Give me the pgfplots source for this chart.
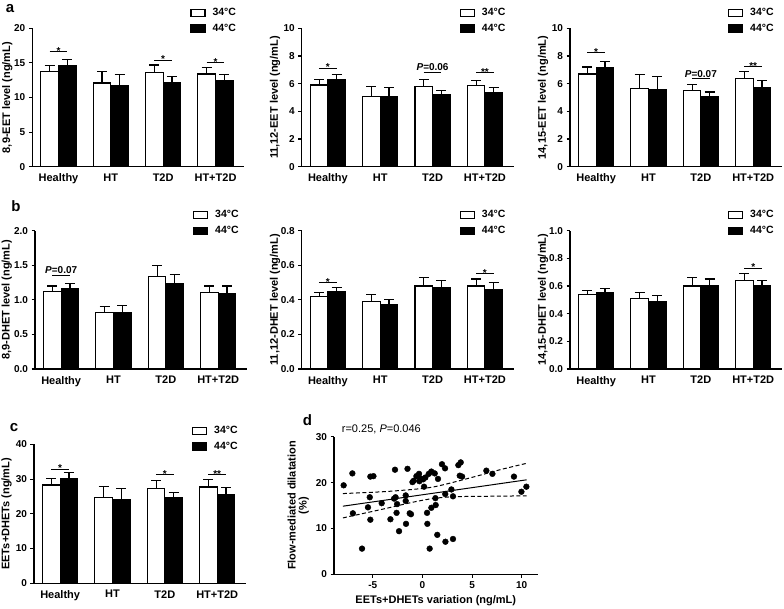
\documentclass[border=0pt]{standalone}
\usepackage{pgfplots}
\usepackage{pgfplotstable}
\pgfplotsset{compat=1.18}
\usepackage{fontspec}
\setmainfont{Liberation Sans}

% group, 34C mean, 34C error, 44C mean, 44C error
\pgfplotstableread{
g w we b be
0 13.8 0.8 14.6 0.9
1 12.1 1.6 11.7 1.6
2 13.6 1.1 12.1 0.9
3 13.4 0.9 12.4 0.9
}\tabAa
\pgfplotstableread{
g w we b be
0 5.90 0.40 6.30 0.35
1 5.10 0.70 5.05 0.70
2 5.80 0.50 5.20 0.30
3 5.85 0.40 5.35 0.40
}\tabAb
\pgfplotstableread{
g w we b be
0 6.70 0.50 7.15 0.45
1 5.65 1.00 5.60 0.90
2 5.50 0.45 5.10 0.30
3 6.35 0.55 5.75 0.50
}\tabAc
\pgfplotstableread{
g w we b be
0 1.12 0.08 1.16 0.08
1 0.82 0.08 0.82 0.10
2 1.34 0.15 1.23 0.13
3 1.10 0.10 1.09 0.11
}\tabBa
\pgfplotstableread{
g w we b be
0 0.42 0.02 0.45 0.02
1 0.39 0.04 0.37 0.03
2 0.48 0.05 0.47 0.04
3 0.48 0.04 0.46 0.04
}\tabBb
\pgfplotstableread{
g w we b be
0 0.54 0.03 0.55 0.03
1 0.51 0.04 0.49 0.04
2 0.60 0.06 0.60 0.05
3 0.64 0.05 0.60 0.04
}\tabBc
\pgfplotstableread{
g w we b be
0 28.3 1.9 30.2 1.6
1 24.6 3.3 24.1 3.1
2 27.3 2.3 24.6 1.5
3 27.7 2.1 25.6 1.9
}\tabC
\pgfplotstableread{
x y
-7.93 19.4
-7.05 22.0
-7.00 13.3
-6.08 5.6
-5.24 21.3
-4.93 21.4
-5.30 16.8
-5.48 14.6
-5.24 11.9
-4.10 15.5
-3.22 12.0
-2.76 22.8
-2.70 16.8
-2.85 16.5
-2.55 15.3
-2.60 13.4
-2.35 9.4
-1.50 23.0
-1.68 17.2
-1.68 16.0
-1.65 11.0
-1.28 13.3
-1.15 13.1
-1.00 20.1
-0.87 20.4
-0.60 21.4
-0.34 21.9
-0.20 20.9
-0.30 20.3
0.07 20.7
0.30 21.1
0.17 19.1
0.64 21.9
0.90 22.4
1.24 22.0
0.50 11.0
0.73 5.6
0.47 13.4
0.90 14.5
1.34 15.1
1.31 16.6
1.57 20.8
1.50 8.6
1.97 24.0
2.28 23.1
2.30 17.5
2.32 7.1
2.92 18.5
3.08 17.0
3.08 7.7
3.62 23.8
3.86 24.4
3.76 21.5
4.00 21.3
6.44 22.6
7.05 21.9
9.22 21.3
9.97 18.0
10.47 19.1
}\tabD

\newcommand{\fs}[1]{\fontsize{#1}{#1}\selectfont\bfseries}
% significance bar: x1, x2, xmid, y, text
\newcommand{\sigs}[5]{%
  \draw[line width=0.9pt] (axis cs:#1,#4) -- (axis cs:#2,#4);
  \node[font=\fs{10}, anchor=base, inner sep=0pt, yshift=-2.6pt] at (axis cs:#3,#4) {#5};}
\newcommand{\sigp}[5]{%
  \draw[line width=0.9pt] (axis cs:#1,#4) -- (axis cs:#2,#4);
  \node[font=\fs{10}, anchor=base, inner sep=0pt, yshift=1.6pt] at (axis cs:#3,#4) {#5};}

\pgfplotsset{
  lgw/.style={legend image code/.code={\draw[line width=1.1pt,draw=black,fill=white] (0pt,-3.6pt) rectangle (14pt,3.6pt);}},
  lgb/.style={legend image code/.code={\draw[line width=1.1pt,draw=black,fill=black] (0pt,-3.6pt) rectangle (14pt,3.6pt);}},
  ebar/.style={error bars/.cd, y dir=plus, y explicit, error mark=|,
    error bar style={line width=1.1pt, black},
    error mark options={line width=1.1pt, black, mark size=5pt}},
  ylpos/.style={ylabel style={at={(axis description cs:#1,0.5)}, anchor=center}},
  barax/.style={
    scale only axis, width=212pt, height=138.4pt, anchor=south west,
    xmin=-0.5, xmax=3.55, ymin=0,
    axis x line*=bottom, axis y line*=left,
    axis line style={line width=1.2pt, -},
    xtick={0,1,2,3}, xticklabels={Healthy,HT,T2D,HT+T2D},
    x tick style={draw=none},
    tick align=outside, major tick length=3.5pt,
    y tick style={line width=1.1pt, black},
    /pgf/number format/assume math mode=true,
    yticklabel style={font=\fs{10}},
    xticklabel style={font=\fs{11}},
    ylabel style={font=\fs{11}},
    ybar, bar width=0.336,
    clip=false,
    legend style={draw=none, fill=none, inner sep=0pt,
      at={(axis description cs:0.745,1.16)}, anchor=north west,
      font=\fs{10.5}, row sep=3pt, legend cell align=left,
      /tikz/every odd column/.append style={column sep=5pt}},
  },
}

\begin{document}
\begin{tikzpicture}
\useasboundingbox (0pt,0pt) rectangle (784pt,608pt);

% ---------------- Row a ----------------
\begin{axis}[barax, at={(32.3pt,441.3pt)}, ymax=20, ytick={0,5,10,15,20},
  ylabel={8,9-EET level (ng/mL)}, ylpos=-0.118]
\addplot[draw=black, fill=white, line width=1.1pt, bar shift=-0.168, lgw, ebar] table[x=g,y=w,y error=we]{\tabAa};
\addplot[draw=black, fill=black, line width=1.1pt, bar shift=0.168, lgb, ebar] table[x=g,y=b,y error=be]{\tabAa};
\legend{34°C,44°C}
\sigs{-0.17}{0.17}{0}{16.6}{*}
\sigs{1.83}{2.17}{2}{15.4}{*}
\sigs{2.83}{3.17}{3}{15.0}{*}
\end{axis}

\begin{axis}[barax, at={(301.7pt,441.3pt)}, ymax=10, ytick={0,2,4,6,8,10},
  ylabel={11,12-EET level (ng/mL)}, ylpos=-0.126]
\addplot[draw=black, fill=white, line width=1.1pt, bar shift=-0.168, lgw, ebar] table[x=g,y=w,y error=we]{\tabAb};
\addplot[draw=black, fill=black, line width=1.1pt, bar shift=0.168, lgb, ebar] table[x=g,y=b,y error=be]{\tabAb};
\legend{34°C,44°C}
\sigs{-0.17}{0.17}{0}{7.12}{*}
\sigp{1.83}{2.17}{2}{6.81}{\textit{P}=0.06}
\sigs{2.83}{3.17}{3}{6.81}{**}
\end{axis}

\begin{axis}[barax, at={(570pt,441.3pt)}, ymax=10, ytick={0,2,4,6,8,10},
  ylabel={14,15-EET level (ng/mL)}, ylpos=-0.127]
\addplot[draw=black, fill=white, line width=1.1pt, bar shift=-0.168, lgw, ebar] table[x=g,y=w,y error=we]{\tabAc};
\addplot[draw=black, fill=black, line width=1.1pt, bar shift=0.168, lgb, ebar] table[x=g,y=b,y error=be]{\tabAc};
\legend{34°C,44°C}
\sigs{-0.17}{0.17}{0}{8.25}{*}
\sigp{1.83}{2.17}{2}{6.35}{\textit{P}=0.07}
\sigs{2.83}{3.17}{3}{7.24}{**}
\end{axis}

% ---------------- Row b ----------------
\begin{axis}[barax, at={(35pt,239pt)}, ymax=2, ytick={0,0.5,1,1.5,2},
  yticklabel style={/pgf/number format/.cd, fixed, fixed zerofill, precision=1},
  ylabel={8,9-DHET level (ng/mL)}, ylpos=-0.133]
\addplot[draw=black, fill=white, line width=1.1pt, bar shift=-0.168, lgw, ebar] table[x=g,y=w,y error=we]{\tabBa};
\addplot[draw=black, fill=black, line width=1.1pt, bar shift=0.168, lgb, ebar] table[x=g,y=b,y error=be]{\tabBa};
\legend{34°C,44°C}
\sigp{-0.17}{0.17}{0}{1.35}{\textit{P}=0.07}
\end{axis}

\begin{axis}[barax, at={(301.7pt,239pt)}, ymax=0.8, ytick={0,0.2,0.4,0.6,0.8},
  yticklabel style={/pgf/number format/.cd, fixed, fixed zerofill, precision=1},
  ylabel={11,12-DHET level (ng/mL)}, ylpos=-0.126]
\addplot[draw=black, fill=white, line width=1.1pt, bar shift=-0.168, lgw, ebar] table[x=g,y=w,y error=we]{\tabBb};
\addplot[draw=black, fill=black, line width=1.1pt, bar shift=0.168, lgb, ebar] table[x=g,y=b,y error=be]{\tabBb};
\legend{34°C,44°C}
\sigs{-0.17}{0.17}{0}{0.50}{*}
\sigs{2.83}{3.17}{3}{0.55}{*}
\end{axis}

\begin{axis}[barax, at={(570pt,239pt)}, ymax=1, ytick={0,0.2,0.4,0.6,0.8,1},
  yticklabel style={/pgf/number format/.cd, fixed, fixed zerofill, precision=1},
  ylabel={14,15-DHET level (ng/mL)}, ylpos=-0.127]
\addplot[draw=black, fill=white, line width=1.1pt, bar shift=-0.168, lgw, ebar] table[x=g,y=w,y error=we]{\tabBc};
\addplot[draw=black, fill=black, line width=1.1pt, bar shift=0.168, lgb, ebar] table[x=g,y=b,y error=be]{\tabBc};
\legend{34°C,44°C}
\sigs{2.83}{3.17}{3}{0.73}{*}
\end{axis}

% ---------------- Row c ----------------
\begin{axis}[barax, at={(34pt,24.7pt)}, height=139pt, ymax=40, ytick={0,10,20,30,40},
  ylabel={EETs+DHETs (ng/mL)}, ylpos=-0.129,
  legend style={at={(axis description cs:0.745,1.145)}}]
\addplot[draw=black, fill=white, line width=1.1pt, bar shift=-0.168, lgw, ebar] table[x=g,y=w,y error=we]{\tabC};
\addplot[draw=black, fill=black, line width=1.1pt, bar shift=0.168, lgb, ebar] table[x=g,y=b,y error=be]{\tabC};
\legend{34°C,44°C}
\sigs{-0.17}{0.17}{0}{32.9}{*}
\sigs{1.83}{2.17}{2}{31.2}{*}
\sigs{2.83}{3.17}{3}{31.2}{**}
\end{axis}

% ---------------- Panel d ----------------
\begin{axis}[scale only axis, width=203.6pt, height=137.6pt,
  at={(334pt,33.7pt)}, anchor=south west,
  xmin=-8.9, xmax=11.6, ymin=0, ymax=30,
  axis x line*=bottom, axis y line*=left,
  axis line style={line width=1.2pt, -},
  xtick={-5,0,5,10}, ytick={0,10,20,30},
  tick align=outside, major tick length=3.5pt,
  tick style={line width=1.1pt, black},
  /pgf/number format/assume math mode=true,
  tick label style={font=\fs{10}},
  ylabel style={font=\fs{11}, align=center},
  xlabel style={font=\fs{11}},
  ylabel={Flow-mediated dilatation\\(\%)},
  xlabel={EETs+DHETs variation (ng/mL)},
  clip=false]
\addplot[only marks, mark=*, mark size=2.9pt, black] table[x=x,y=y]{\tabD};
\addplot[black, line width=1pt] coordinates {(-8,14.85) (10.5,20.6)};
\addplot[black, line width=1pt, dash pattern=on 4pt off 2.5pt, smooth] coordinates {
  (-8,17.6) (-4,18.0) (-1,18.5) (1,19.0) (3,20.0) (5.8,21.6) (8,22.9) (10.5,24.2)};
\addplot[black, line width=1pt, dash pattern=on 4pt off 2.5pt, smooth] coordinates {
  (-8,12.3) (-4,14.2) (-1,15.7) (1,16.5) (3,16.9) (6,17.0) (8,17.05) (10.5,17.1)};
\end{axis}

% panel letters and annotation
\node[font=\fs{15}] at (10pt,599pt) {a};
\node[font=\fs{15}] at (16pt,402pt) {b};
\node[font=\fs{15}] at (14pt,180pt) {c};
\node[font=\fs{15}] at (307.5pt,188pt) {d};
\node[font=\fontsize{11}{11}\selectfont, anchor=base west, inner sep=0pt] at (341.7pt,175.3pt) {r=0.25, \textit{P}=0.046};
\end{tikzpicture}
\end{document}
